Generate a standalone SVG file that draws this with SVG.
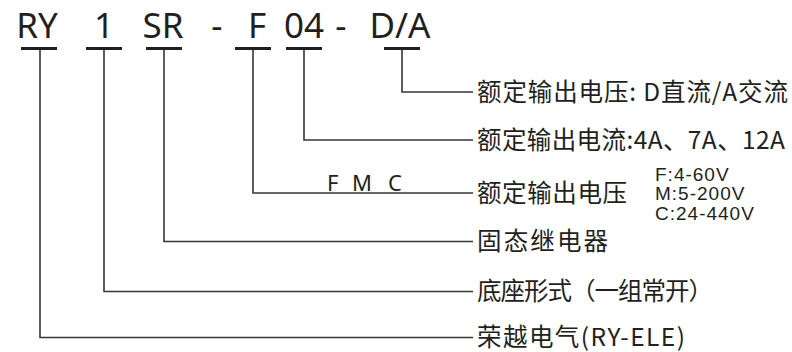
<svg xmlns="http://www.w3.org/2000/svg" width="792" height="352" viewBox="0 0 792 352">
<style>
.code{font-family:"Noto Sans","Liberation Sans",sans-serif;font-size:35px;fill:#231f20;text-anchor:middle}
.cn{font-family:"Noto Sans CJK SC","Noto Sans",sans-serif;font-size:24.5px;fill:#231f20}
.sm{font-family:"Liberation Sans",Arial,sans-serif;font-size:19px;letter-spacing:1px;fill:#231f20}
.fmc{font-family:"Noto Sans","Liberation Sans",sans-serif;font-size:22px;fill:#231f20}
.bar{fill:#231f20}
.ln{fill:none;stroke:#3a3535;stroke-width:1.6}
</style>
<rect width="792" height="352" fill="#ffffff"/>
<g id="code">
<text class="code" x="37" y="38">RY</text>
<text class="code" x="104" y="38">1</text>
<text class="code" x="163" y="38">SR</text>
<text class="code" x="217" y="38">-</text>
<text class="code" x="257" y="38">F</text>
<text class="code" x="304" y="38">04</text>
<text class="code" x="341" y="38">-</text>
<text class="code" x="400" y="38">D/A</text>
<rect class="bar" x="21" y="47" width="36" height="3"/>
<rect class="bar" x="86" y="47" width="36" height="3"/>
<rect class="bar" x="146" y="47" width="36" height="3"/>
<rect class="bar" x="235" y="47" width="36" height="3"/>
<rect class="bar" x="286" y="47" width="36" height="3"/>
<rect class="bar" x="384" y="47" width="36" height="3"/>
</g>
<g id="connectors">
<polyline class="ln" points="402,50 402,92 473,92"/>
<polyline class="ln" points="304,50 304,140 473,140"/>
<polyline class="ln" points="253,50 253,193 473,193"/>
<polyline class="ln" points="164,50 164,241.5 473,241.5"/>
<polyline class="ln" points="104,50 104,291.5 473,291.5"/>
<polyline class="ln" points="40,50 40,337.5 473,337.5"/>
</g>
<g id="n-voltage-type"><text class="cn" x="477" y="101" textLength="311" lengthAdjust="spacing">额定输出电压: D直流/A交流</text></g>
<g id="n-current"><text class="cn" x="477" y="149" textLength="308" lengthAdjust="spacing">额定输出电流:4A、7A、12A</text></g>
<g id="n-voltage">
<text class="fmc" x="327" y="191">F</text>
<text class="fmc" x="352" y="191">M</text>
<text class="fmc" x="388" y="191">C</text>
<text class="cn" x="477" y="202" textLength="150" lengthAdjust="spacing">额定输出电压</text>
<text class="sm" x="655" y="181">F:4-60V</text>
<text class="sm" x="655" y="200">M:5-200V</text>
<text class="sm" x="655" y="220">C:24-440V</text>
</g>
<g id="n-ssr"><text class="cn" x="477" y="250" textLength="131" lengthAdjust="spacing">固态继电器</text></g>
<g id="n-base"><text class="cn" x="477" y="300" textLength="236" lengthAdjust="spacing">底座形式（一组常开）</text></g>
<g id="n-brand"><text class="cn" x="477" y="346" textLength="208" lengthAdjust="spacing">荣越电气(RY-ELE)</text></g>
</svg>
